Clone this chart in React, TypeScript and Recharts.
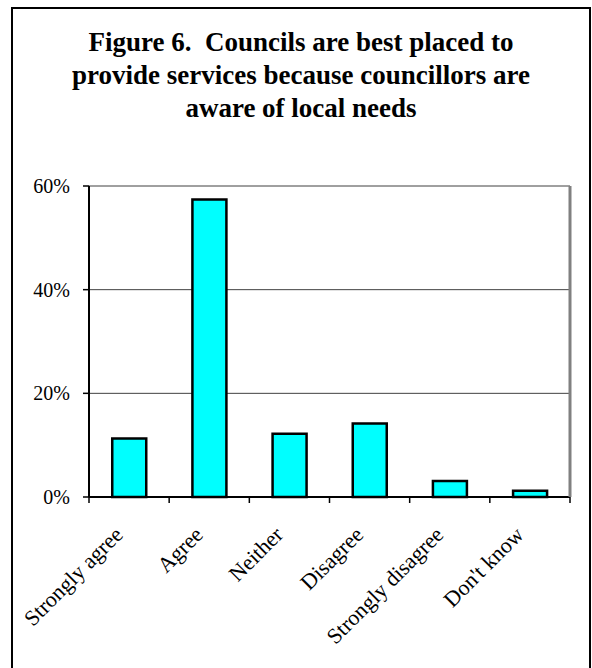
import React from "react";
import { BarChart, Bar, XAxis, YAxis, CartesianGrid } from "recharts";

const categories = ["Strongly agree", "Agree", "Neither", "Disagree", "Strongly disagree", "Don't know"];
const shares = [11.3, 57.4, 12.2, 14.2, 3.1, 1.2];
const yTicks = [0, 20, 40, 60];
const titleLines = [
  "Figure 6.\u00a0\u00a0Councils are best placed to",
  "provide services because councillors are",
  "aware of local needs",
];

const data = categories.map((name, i) => ({ name, value: shares[i] }));

const FONT = '"Liberation Serif", "Times New Roman", serif';
const W = 592;
const H = 668;
const MARGIN = { top: 186, right: 21, bottom: 51, left: 29 };
const Y_AXIS_W = 60;
const RIGHT_AXIS_W = 1;
const bandWidth = (W - MARGIN.left - MARGIN.right - Y_AXIS_W - RIGHT_AXIS_W) / categories.length;

// category label, plus the small tick marks that sit between the bars
function SlantTick(props: any) {
  const { x, y, payload, index } = props;
  const tx = x - 5;
  const ty = y + 30;
  const half = bandWidth / 2;
  return (
    <g>
      <line x1={x - half} y1={y - 9} x2={x - half} y2={y - 3} stroke="#000" strokeWidth={1.5} />
      {index === categories.length - 1 && (
        <line x1={x + half} y1={y - 9} x2={x + half} y2={y - 3} stroke="#000" strokeWidth={1.5} />
      )}
      <text
        x={tx}
        y={ty}
        transform={`rotate(-45, ${tx}, ${ty})`}
        textAnchor="end"
        fontFamily={FONT}
        fontSize={22}
        fill="#000"
      >
        {payload.value}
      </text>
    </g>
  );
}

export default function App() {
  return (
    <div style={{ position: "absolute", left: 0, top: 0, width: W, height: H, background: "#fff", overflow: "hidden" }}>
      <div
        style={{
          position: "absolute",
          left: 11,
          top: 7,
          width: 580,
          height: 700,
          border: "2px solid #000",
          boxSizing: "border-box",
        }}
      />
      <div
        style={{
          position: "absolute",
          left: 11,
          top: 26,
          width: 580,
          textAlign: "center",
          fontFamily: FONT,
          fontWeight: "bold",
          fontSize: 27,
          lineHeight: "33px",
          color: "#000",
        }}
      >
        {titleLines.map((t) => (
          <div key={t}>{t}</div>
        ))}
      </div>
      <div style={{ position: "absolute", left: 0, top: 0 }}>
        <BarChart width={W} height={H} data={data} margin={MARGIN} barCategoryGap="29%">
          <XAxis
            xAxisId="cat"
            dataKey="name"
            interval={0}
            tickLine={false}
            tickSize={0}
            tickMargin={9}
            axisLine={{ stroke: "#000", strokeWidth: 2 }}
            height={120}
            tick={<SlantTick />}
          />
          <XAxis
            xAxisId="top"
            orientation="top"
            dataKey="name"
            tick={false}
            tickLine={false}
            axisLine={{ stroke: "#808080", strokeWidth: 3 }}
            height={0}
          />
          <YAxis
            yAxisId="left"
            domain={[0, 60]}
            ticks={yTicks}
            tickFormatter={(v) => `${v}%`}
            tickSize={6}
            tickMargin={13}
            tickLine={{ stroke: "#000", strokeWidth: 1.5 }}
            axisLine={{ stroke: "#000", strokeWidth: 2 }}
            tick={{ fill: "#000", fontFamily: FONT, fontSize: 20 }}
            width={Y_AXIS_W}
          />
          <YAxis
            yAxisId="right"
            orientation="right"
            domain={[0, 60]}
            tick={false}
            tickLine={false}
            axisLine={{ stroke: "#808080", strokeWidth: 3 }}
            width={RIGHT_AXIS_W}
          />
          <CartesianGrid xAxisId="cat" yAxisId="left" vertical={false} stroke="#404040" strokeWidth={1} />
          <Bar
            xAxisId="cat"
            yAxisId="left"
            dataKey="value"
            fill="#00FFFF"
            stroke="#000"
            strokeWidth={2.5}
            isAnimationActive={false}
          />
        </BarChart>
      </div>
    </div>
  );
}
